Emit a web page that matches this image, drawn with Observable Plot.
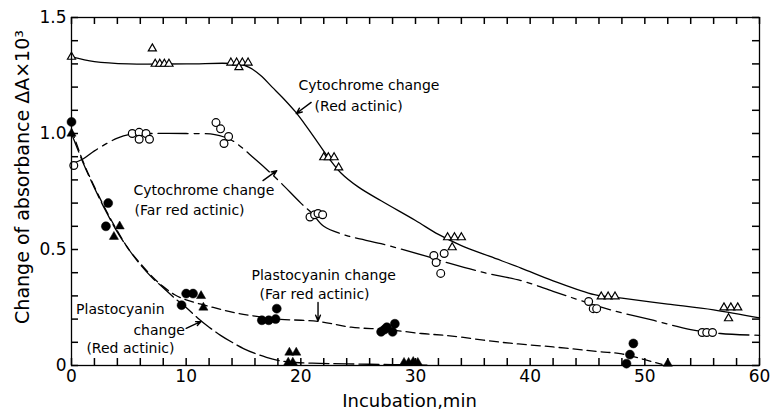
<!DOCTYPE html>
<html><head><meta charset="utf-8">
<script src="https://cdn.jsdelivr.net/npm/d3@7"></script>
<script src="https://cdn.jsdelivr.net/npm/@observablehq/plot@0.6"></script>
<style>body{margin:0;background:#fff}svg{display:block}</style>
</head><body><div id="chart"></div>
<script>
// ---- Observed points (open triangles): Cytochrome change, Red actinic
const cytRedX = [0, 7.05, 7.3, 7.7, 8.1, 8.5, 13.9, 14.4, 14.9, 15.4, 14.6, 22.0, 22.4, 22.9, 23.3, 32.8, 33.4, 34.0, 33.2, 46.2, 46.8, 47.4, 56.9, 57.5, 58.1, 57.3];
const cytRedY = [1.33, 1.366, 1.30, 1.30, 1.30, 1.30, 1.305, 1.305, 1.305, 1.305, 1.285, 0.897, 0.897, 0.897, 0.853, 0.552, 0.552, 0.552, 0.509, 0.297, 0.297, 0.297, 0.25, 0.25, 0.25, 0.203];
// Open circles: Cytochrome change, Far red actinic
const cytFarX = [0.2, 5.3, 5.9, 6.5, 5.9, 6.8, 12.6, 13.0, 13.7, 13.3, 20.8, 21.2, 21.5, 21.9, 31.6, 32.5, 31.8, 32.2, 45.1, 45.5, 45.8, 55.0, 55.4, 55.9];
const cytFarY = [0.862, 1.0, 1.005, 1.0, 0.975, 0.975, 1.047, 1.02, 0.987, 0.957, 0.64, 0.65, 0.655, 0.65, 0.474, 0.483, 0.444, 0.397, 0.276, 0.245, 0.245, 0.142, 0.142, 0.142];
// Filled circles: Plastocyanin change, Far red actinic
const plaFarX = [0, 3.2, 3.0, 9.6, 10.0, 10.6, 16.6, 17.2, 17.8, 17.9, 27.0, 27.5, 28.2, 28.0, 27.3, 49.0, 48.7, 48.4];
const plaFarY = [1.05, 0.70, 0.60, 0.26, 0.31, 0.31, 0.195, 0.195, 0.20, 0.245, 0.145, 0.165, 0.18, 0.145, 0.155, 0.095, 0.047, 0.008];
// Filled triangles: Plastocyanin change, Red actinic
const plaRedX = [0, 3.7, 4.2, 11.3, 11.5, 19.0, 19.6, 18.9, 19.3, 29.0, 29.4, 29.8, 30.2, 52.0];
const plaRedY = [1.0, 0.555, 0.60, 0.30, 0.25, 0.056, 0.056, 0.013, 0.013, 0.012, 0.012, 0.016, 0.012, 0.008];

// ---- Hand-drawn fitted curves
const cytRedCurveX = [0, 2, 5, 10, 14.5, 15.5, 16.5, 17.5, 18.5, 19.5, 20.5, 21.5, 22.5, 23.5, 25, 27, 30, 32, 34, 36.5, 39.2, 42, 45.6, 48, 52, 56, 60];
const cytRedCurveY = [1.33, 1.31, 1.30, 1.30, 1.30, 1.285, 1.25, 1.20, 1.15, 1.095, 1.03, 0.96, 0.89, 0.83, 0.77, 0.71, 0.625, 0.565, 0.517, 0.47, 0.42, 0.365, 0.305, 0.29, 0.265, 0.24, 0.205];
const cytFarCurveX = [0, 1, 2, 3, 4, 5, 7, 10, 12.5, 14, 16, 18, 20, 21, 22, 24, 27, 31, 33, 36, 39.2, 42, 44.4, 47, 50.8, 54, 56.6, 60];
const cytFarCurveY = [0.87, 0.89, 0.925, 0.955, 0.98, 0.995, 1.0, 1.0, 0.995, 0.97, 0.89, 0.80, 0.70, 0.655, 0.60, 0.56, 0.525, 0.47, 0.44, 0.40, 0.366, 0.32, 0.28, 0.24, 0.194, 0.155, 0.138, 0.13];
const plaFarCurveX = [0, 1, 2, 3, 4, 5, 6, 7, 8, 9, 10, 12, 14, 16, 18, 21.5, 24.4, 27.5, 30.5, 33, 37.5, 42, 46, 48, 50, 51.5];
const plaFarCurveY = [1.02, 0.88, 0.77, 0.67, 0.58, 0.50, 0.44, 0.385, 0.34, 0.305, 0.283, 0.255, 0.23, 0.213, 0.20, 0.19, 0.165, 0.155, 0.138, 0.128, 0.10, 0.08, 0.06, 0.05, 0.025, 0.005];
const plaRedCurveX = [0, 1, 2, 3, 4, 5, 6, 7, 8, 9, 10, 11, 12, 13, 14, 15, 16, 17, 18, 19, 21, 24, 28, 31];
const plaRedCurveY = [1.0, 0.875, 0.765, 0.665, 0.575, 0.50, 0.435, 0.38, 0.335, 0.29, 0.25, 0.205, 0.165, 0.13, 0.10, 0.073, 0.052, 0.035, 0.022, 0.015, 0.01, 0.007, 0.004, 0.002];

// ---- Annotation labels
const labelLines = ["Cytochrome change", "(Red actinic)", "Cytochrome change", "(Far red actinic)", "Plastocyanin change", "(Far red actinic)", "Plastocyanin", "change", "(Red actinic)"];
const labelX = [19.8, 21.2, 5.4, 5.5, 15.7, 16.4, 0.4, 5.4, 1.3];
const labelY = [1.205, 1.115, 0.755, 0.67, 0.388, 0.307, 0.24, 0.152, 0.074];
// arrows: tail -> head
const arrowX1 = [20.9, 16.7, 21.5, 10.0];
const arrowY1 = [1.134, 0.797, 0.272, 0.160];
const arrowX2 = [19.6, 17.9, 21.5, 11.3];
const arrowY2 = [1.086, 0.840, 0.192, 0.190];

const xTicksMajor = [0, 10, 20, 30, 40, 50, 60];
const xTicksMinor = [0, 2, 4, 6, 8, 10, 12, 14, 16, 18, 20, 22, 24, 26, 28, 30, 32, 34, 36, 38, 40, 42, 44, 46, 48, 50, 52, 54, 56, 58, 60];
const yTicksMajor = [0, 0.5, 1.0, 1.5];
const yTicksMinor = [0, 0.1, 0.2, 0.3, 0.4, 0.5, 0.6, 0.7, 0.8, 0.9, 1.0, 1.1, 1.2, 1.3, 1.4, 1.5];
const xTitle = "Incubation,min";
const yTitle = "Change of absorbance ΔA×10³";

const pts = (xs, ys) => xs.map((x, i) => ({x, y: ys[i]}));
const ink = "black";
const lw = 1.3;
const W = 772, H = 415, mL = 71, mR = 13, mT = 17, mB = 50, tickLen = 7;
const frameW = W - mL - mR, frameH = H - mT - mB;
const xMax = 60, yMax = 1.5;
// tick length expressed in each scale's units (pixels -> domain)
const tkY = tickLen * yMax / frameH, tkX = tickLen * xMax / frameW;

const chart = Plot.plot({
  width: W,
  height: H,
  marginLeft: mL,
  marginRight: mR,
  marginTop: mT,
  marginBottom: mB,
  style: {fontFamily: "DejaVu Sans", background: "white"},
  x: {domain: [0, xMax]},
  y: {domain: [0, yMax]},
  marks: [
    Plot.line(pts(cytRedCurveX, cytRedCurveY), {x: "x", y: "y", stroke: ink, strokeWidth: lw, curve: "catmull-rom"}),
    Plot.line(pts(cytFarCurveX, cytFarCurveY), {x: "x", y: "y", stroke: ink, strokeWidth: lw, curve: "catmull-rom", strokeDasharray: "30,6,5,6"}),
    Plot.line(pts(plaFarCurveX, plaFarCurveY), {x: "x", y: "y", stroke: ink, strokeWidth: lw, curve: "catmull-rom", strokeDasharray: "9,5"}),
    Plot.line(pts(plaRedCurveX, plaRedCurveY), {x: "x", y: "y", stroke: ink, strokeWidth: lw, curve: "catmull-rom", strokeDasharray: "20,5"}),
    Plot.dot(pts(cytRedX, cytRedY), {x: "x", y: "y", symbol: "triangle", r: 3.0, fill: "white", stroke: ink, strokeWidth: 1.2}),
    Plot.dot(pts(cytFarX, cytFarY), {x: "x", y: "y", symbol: "circle", r: 3.9, fill: "white", stroke: ink, strokeWidth: 1.2}),
    Plot.dot(pts(plaFarX, plaFarY), {x: "x", y: "y", symbol: "circle", r: 4.5, fill: ink, stroke: ink, strokeWidth: 0.5}),
    Plot.dot(pts(plaRedX, plaRedY), {x: "x", y: "y", symbol: "triangle", r: 3.4, fill: ink, stroke: ink, strokeWidth: 0.5}),
    Plot.arrow(arrowX1.map((x, i) => ({x1: x, y1: arrowY1[i], x2: arrowX2[i], y2: arrowY2[i]})), {x1: "x1", y1: "y1", x2: "x2", y2: "y2", stroke: ink, strokeWidth: 1.4, headLength: 7, headAngle: 45}),
    Plot.text(labelLines.map((t, i) => ({t, x: labelX[i], y: labelY[i]})), {x: "x", y: "y", text: "t", textAnchor: "start", fontSize: 14, fill: ink, letterSpacing: "0.3px"}),
    // inward ticks on all four sides
    Plot.ruleX(xTicksMinor, {x: d => d, y1: 0, y2: tkY, stroke: ink, strokeWidth: 1.5}),
    Plot.ruleX(xTicksMinor, {x: d => d, y1: yMax, y2: yMax - tkY, stroke: ink, strokeWidth: 1.5}),
    Plot.ruleY(yTicksMinor, {y: d => d, x1: 0, x2: tkX, stroke: ink, strokeWidth: 1.5}),
    Plot.ruleY(yTicksMinor, {y: d => d, x1: xMax, x2: xMax - tkX, stroke: ink, strokeWidth: 1.5}),
    Plot.frame({stroke: ink, strokeWidth: 1.3}),
    Plot.axisX({anchor: "bottom", ticks: xTicksMajor, tickSize: 0, tickPadding: 4, tickFormat: d => String(d), label: null, fontSize: 17, fill: ink}),
    Plot.axisY({anchor: "left", ticks: yTicksMajor, tickSize: 0, tickPadding: 5, tickFormat: d => d === 0 ? "0" : d.toFixed(1), label: null, fontSize: 17, fill: ink}),
    Plot.text([xTitle], {frameAnchor: "bottom", text: d => d, dy: 41, dx: -6, fontSize: 18, fill: ink})
  ]
});

// rotated y-axis title, placed in the left margin
d3.select(chart).append("text")
  .attr("transform", `translate(23,${mT + frameH / 2 - 14}) rotate(-90)`)
  .attr("text-anchor", "middle")
  .attr("dominant-baseline", "middle")
  .attr("font-family", "DejaVu Sans")
  .attr("font-size", 19)
  .attr("fill", ink)
  .text(yTitle);
document.getElementById("chart").appendChild(chart);
</script>
</body></html>
